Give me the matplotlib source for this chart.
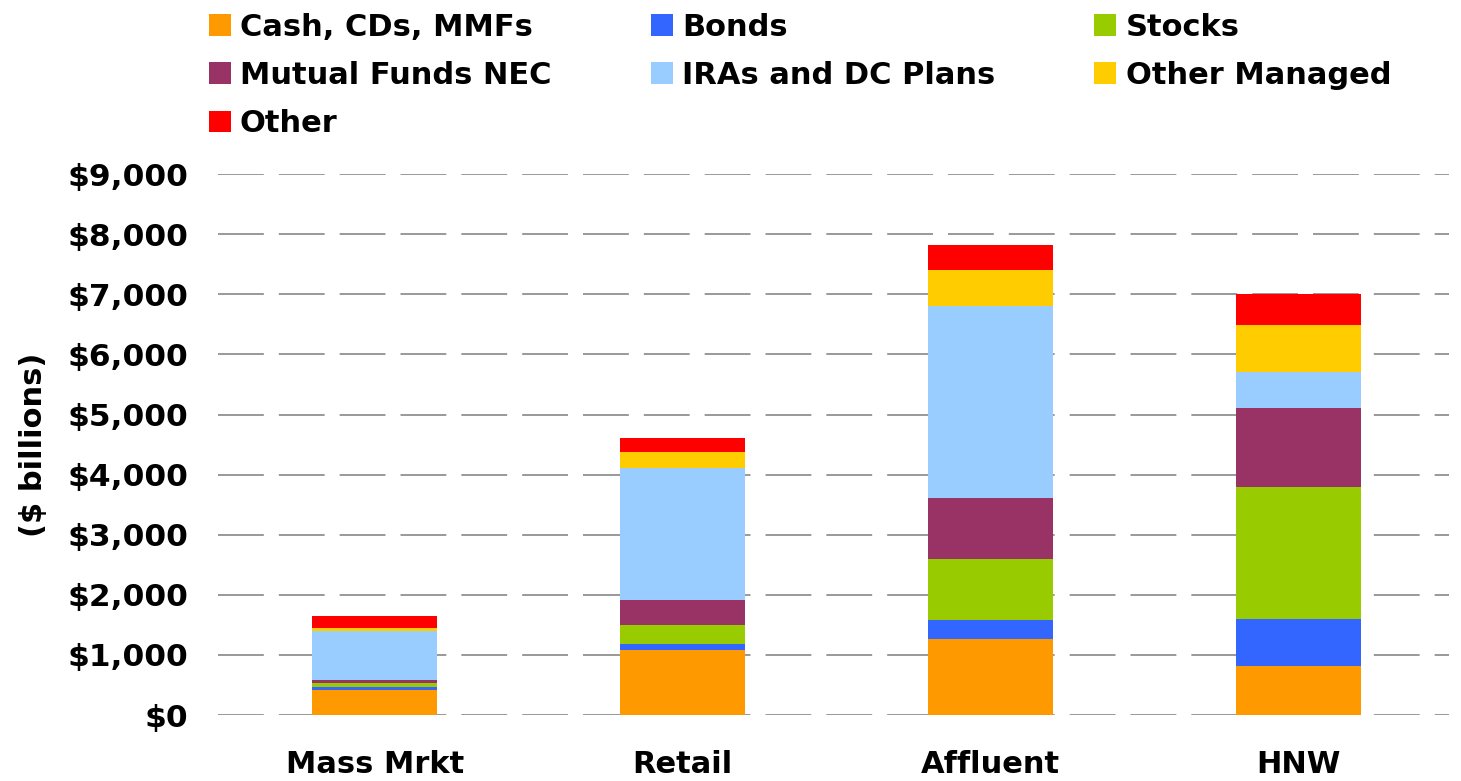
import numpy as np
import matplotlib
matplotlib.use("Agg")
import matplotlib.pyplot as plt
from matplotlib.patches import Patch

# ---- data ($ billions) ----
segments = ["Mass Mrkt", "Retail", "Affluent", "HNW"]
series_names = ["Cash, CDs, MMFs", "Bonds", "Stocks", "Mutual Funds NEC",
                "IRAs and DC Plans", "Other Managed", "Other"]
cash = [410, 1085, 1265, 820]
bonds = [50, 100, 315, 780]
stocks = [80, 315, 1015, 2195]
mutual_funds = [50, 415, 1020, 1315]
iras_dc = [815, 2200, 3190, 605]
other_managed = [50, 260, 600, 775]
other = [185, 235, 415, 515]
y_ticks = [0, 1000, 2000, 3000, 4000, 5000, 6000, 7000, 8000, 9000]

colors = ["#FF9900", "#3366FF", "#99CC00", "#993366",
          "#99CCFF", "#FFCC00", "#FF0000"]

FS = 22
plt.rcParams["font.family"] = "DejaVu Sans"
plt.rcParams["font.weight"] = "bold"

fig = plt.figure(figsize=(14.61, 7.81), dpi=100)
ax = fig.add_axes([0.149, 0.0845, 0.843, 0.6925])

x = np.arange(len(segments))
bottom = np.zeros(len(segments))
handles = []
for name, vals, col in zip(series_names,
                           [cash, bonds, stocks, mutual_funds, iras_dc, other_managed, other],
                           colors):
    ax.bar(x, vals, width=0.405, bottom=bottom, color=col, zorder=3)
    bottom += np.array(vals)
    handles.append(Patch(facecolor=col, label=name))

ax.set_xlim(-0.51, 3.49)
ax.set_ylim(0, 9000)
ax.set_yticks(y_ticks)
ax.set_yticklabels([f"${v:,}" for v in y_ticks], fontsize=22.5, fontweight="bold")
ax.set_xticks(x)
ax.set_xticklabels(segments, fontsize=FS, fontweight="bold")
ax.tick_params(axis="both", length=0)
ax.tick_params(axis="y", pad=21)
ax.tick_params(axis="x", pad=25)
for s in ax.spines.values():
    s.set_visible(False)
ax.yaxis.grid(True, color="#888888", linewidth=1.2, linestyle=(0, (27.5, 9)), zorder=0)
ax.set_ylabel("($ billions)", fontsize=FS, fontweight="bold", labelpad=14)

# legend is filled column-wise, so reorder to read row-wise like the reference
order = [0, 3, 6, 1, 4, 2, 5]
fig.legend([handles[i] for i in order], [series_names[i] for i in order],
           loc="upper left", bbox_to_anchor=(0.124, 1.019), ncol=3,
           frameon=False, prop={"size": FS, "weight": "bold"},
           handlelength=0.72, handleheight=0.72, handletextpad=0.3,
           columnspacing=3.25, labelspacing=0.63)

fig.savefig("out.png", dpi=100)
